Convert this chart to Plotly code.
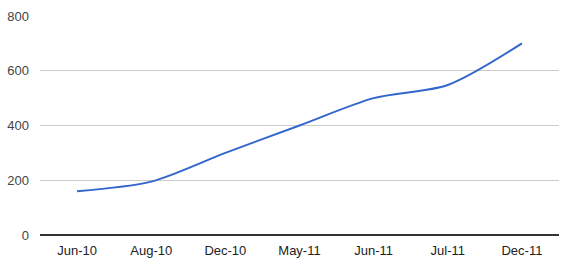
import plotly.graph_objects as go

categories = ["Jun-10", "Aug-10", "Dec-10", "May-11", "Jun-11", "Jul-11", "Dec-11"]
values = [160, 195, 300, 400, 500, 548, 700]
y_ticks = [0, 200, 400, 600, 800]

fig = go.Figure()
fig.add_trace(go.Scatter(
    x=categories, y=values, mode="lines",
    line=dict(color="#3366cc", width=2, shape="spline", smoothing=0.8),
    showlegend=False, hoverinfo="x+y",
))

fig.update_layout(
    width=567, height=268,
    margin=dict(l=40, r=8, t=16, b=33),
    paper_bgcolor="white", plot_bgcolor="white",
    font=dict(family="Liberation Sans, Arial, sans-serif", size=13, color="#444444"),
    xaxis=dict(
        type="category", range=[-0.5, 6.5], showgrid=False,
        showline=False, zeroline=False, ticks="", ticklabelstandoff=6,
        tickfont=dict(size=13, color="#222222"),
    ),
    yaxis=dict(
        range=[0, 800], tickvals=y_ticks, showgrid=True, gridcolor="#cccccc", gridwidth=1,
        zeroline=True, zerolinecolor="#333333", zerolinewidth=1.5,
        showline=False, ticks="", ticklabelstandoff=10, tickfont=dict(size=13, color="#444444"),
    ),
)

fig.write_html("out.html")
